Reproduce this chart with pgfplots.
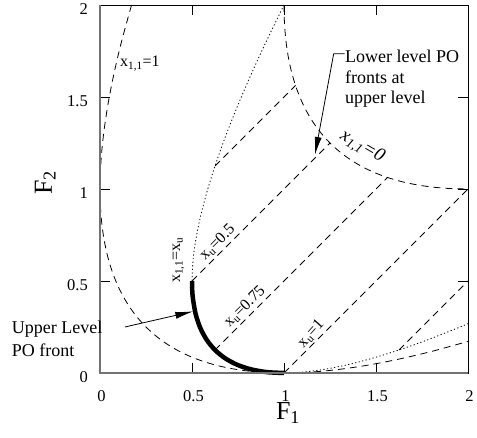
\documentclass[border=0pt]{standalone}
\usepackage{fontspec}
\setmainfont{Liberation Serif}
\usepackage{pgfplots}
\pgfplotsset{compat=1.18}
\usetikzlibrary{arrows.meta}
\newcommand{\lf}{\fontsize{16}{19}\selectfont}
\begin{document}
\begin{tikzpicture}[x=1pt,y=1pt]
\useasboundingbox (0,0) rectangle (477,438);
\begin{axis}[
  at={(100pt,65pt)}, anchor=south west,
  scale only axis, width=368pt, height=368pt,
  xmin=0,xmax=2,ymin=0,ymax=2,
  xtick={0,0.5,1,1.5,2}, ytick={0,0.5,1,1.5,2},
  xticklabels={0,0.5,1,1.5,2}, yticklabels={0,0.5,1,1.5,2},
  tick align=inside, major tick length=10pt,
  tick style={black, line width=0.8pt},
  ticklabel style={font=\fontsize{16.5}{19}\selectfont},
  xticklabel style={anchor=base, inner sep=0pt, yshift=-29pt, xshift=1.5pt},
  yticklabel style={anchor=east, inner sep=0pt, xshift=-12pt, yshift=-4.5pt},
  axis line style={line width=0.8pt},
  clip=false,
]
% x11 = 1 (dashed)
\addplot[black, line width=0.8pt, dash pattern=on 7pt off 5pt, smooth] coordinates {
(0.1716,2.0) (0.1225,1.8225) (0.09,1.69) (0.0625,1.5625) (0.04,1.44) (0.0225,1.3225)
(0.01,1.21) (0.0025,1.1025) (0,1) (0.0025,0.9025) (0.01,0.81) (0.0225,0.7225)
(0.04,0.64) (0.0625,0.5625) (0.09,0.49) (0.1225,0.4225) (0.16,0.36) (0.2025,0.3025)
(0.25,0.25) (0.3025,0.2025) (0.36,0.16) (0.4225,0.1225) (0.49,0.09) (0.5625,0.0625)
(0.64,0.04) (0.7225,0.0225) (0.81,0.01) (0.9025,0.0025) (1,0) (1.1025,0.0025)
(1.21,0.01) (1.3225,0.0225) (1.44,0.04) (1.5625,0.0625) (1.69,0.09) (1.8225,0.1225)
(2.0,0.1716)};
% x11 = 0 (dashed)
\addplot[black, line width=0.8pt, dash pattern=on 7pt off 5pt, smooth] coordinates {
(1,2) (1.0025,1.9025) (1.01,1.81) (1.0225,1.7225) (1.04,1.64) (1.0625,1.5625)
(1.09,1.49) (1.1225,1.4225) (1.16,1.36) (1.2025,1.3025) (1.25,1.25) (1.3025,1.2025)
(1.36,1.16) (1.4225,1.1225) (1.49,1.09) (1.5625,1.0625) (1.64,1.04) (1.7225,1.0225)
(1.81,1.01) (1.9025,1.0025) (2,1)};
% x11 = xu (dotted, upper part)
\addplot[black, line width=0.8pt, dash pattern=on 1.2pt off 2.4pt, smooth] coordinates {
(1,2) (0.905,1.805) (0.82,1.62) (0.745,1.445) (0.68,1.28) (0.625,1.125)
(0.58,0.98) (0.545,0.845) (0.52,0.72) (0.505,0.605) (0.5,0.5)};
% x11 = xu (dotted, lower right part)
\addplot[black, line width=0.8pt, dash pattern=on 1.2pt off 2.4pt, smooth] coordinates {
(1,0) (1.105,0.005) (1.22,0.02) (1.345,0.045) (1.48,0.08) (1.625,0.125)
(1.78,0.18) (1.945,0.245) (2.0,0.268)};
% lower level PO fronts (dashed lines)
\addplot[black, line width=0.8pt, dash pattern=on 7pt off 5pt] coordinates {(0.625,1.125) (1.0625,1.5625)};
\addplot[black, line width=0.8pt, dash pattern=on 7pt off 5pt] coordinates {(0.5,0.5) (1.25,1.25)};
\addplot[black, line width=0.8pt, dash pattern=on 7pt off 5pt] coordinates {(0.625,0.125) (1.5625,1.0625)};
\addplot[black, line width=0.8pt, dash pattern=on 7pt off 5pt] coordinates {(1,0) (2,1)};
\addplot[black, line width=0.8pt, dash pattern=on 7pt off 5pt] coordinates {(1.625,0.125) (2,0.5)};
% upper level PO front (thick)
\addplot[black, line width=4.5pt, smooth] coordinates {
(0.5,0.5) (0.50125,0.45125) (0.505,0.405) (0.52,0.32) (0.545,0.245) (0.58,0.18)
(0.625,0.125) (0.68,0.08) (0.745,0.045) (0.82,0.02) (0.905,0.005) (1,0)};
% gray left and bottom axis lines
\draw[color=black!55, line width=1.8pt] (rel axis cs:0,1) -- (rel axis cs:0,0) -- (rel axis cs:1,0);
% labels
\node[rotate=90, font=\lf] at (axis cs:0.427,0.614) {x\textsubscript{1,1}=x\textsubscript{u}};
\node[rotate=45, font=\lf] at (axis cs:0.639,0.709) {x\textsubscript{u}=0.5};
\node[rotate=45, font=\lf] at (axis cs:0.788,0.359) {x\textsubscript{u}=0.75};
\node[rotate=48, font=\lf] at (axis cs:1.147,0.212) {x\textsubscript{u}=1};
\node[font=\lf] at (axis cs:0.217,1.68) {x\textsubscript{1,1}=1};
\node[rotate=-30, font=\fontsize{19}{22}\selectfont\itshape] at (axis cs:1.424,1.228) {x\textsubscript{1,1}=0};
% annotation texts
\node[anchor=base west, inner sep=0pt, font=\fontsize{18}{21}\selectfont] at (axis cs:1.3315,1.690) {Lower level PO};
\node[anchor=base west, inner sep=0pt, font=\fontsize{18}{21}\selectfont] at (axis cs:1.3315,1.576) {fronts at};
\node[anchor=base west, inner sep=0pt, font=\fontsize{18}{21}\selectfont] at (axis cs:1.3315,1.462) {upper level};
\node[anchor=base west, inner sep=0pt, font=\fontsize{18}{21}\selectfont] at (axis cs:-0.48,0.217) {Upper Level};
\node[anchor=base west, inner sep=0pt, font=\fontsize{18}{21}\selectfont] at (axis cs:-0.48,0.087) {PO front};
% arrows
\draw[line width=0.8pt, -{Latex[length=18pt,width=7pt]}] (axis cs:1.33,1.735) -- (axis cs:1.27,1.735) -- (axis cs:1.168,1.185);
\draw[line width=0.8pt, -{Latex[length=18pt,width=7pt]}] (axis cs:0.136,0.25) .. controls (axis cs:0.17,0.258) .. (axis cs:0.507,0.335);
% axis labels
\node[anchor=base, inner sep=0pt, font=\fontsize{26}{30}\selectfont] at (axis cs:1.022,-0.2554) {F\textsubscript{1}};
\node[anchor=base, rotate=90, inner sep=0pt, font=\fontsize{26}{30}\selectfont] at (axis cs:-0.261,1.033) {F\textsubscript{2}};
\end{axis}
\end{tikzpicture}
\end{document}
